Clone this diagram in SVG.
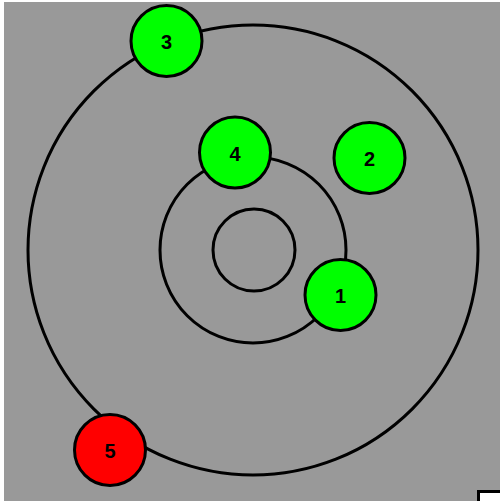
<svg xmlns="http://www.w3.org/2000/svg" width="500" height="501" viewBox="0 0 500 501">
<style>
.orbit{fill:none;stroke:#000;stroke-width:3}
.node circle{stroke:#000;stroke-width:3}
.node text{font-family:"Liberation Sans",Arial,sans-serif;font-size:20px;font-weight:bold;fill:#000;text-anchor:middle;dominant-baseline:central}
</style>
<rect x="0" y="0" width="500" height="501" fill="#fff"/>
<rect x="4" y="2" width="496" height="499" fill="#999999"/>
<rect x="478.5" y="491.5" width="30" height="20" fill="#fff" stroke="#000" stroke-width="3"/>
<g id="connectors">
<circle class="orbit" cx="254" cy="250" r="41"/>
<circle class="orbit" cx="253" cy="250" r="93"/>
<circle class="orbit" cx="253" cy="250" r="225"/>
</g>
<g id="node3" class="node"><circle cx="166.5" cy="41" r="35.5" fill="#00ff00"/><text x="166.5" y="42">3</text></g>
<g id="node4" class="node"><circle cx="235" cy="152.5" r="35.5" fill="#00ff00"/><text x="235" y="153.5">4</text></g>
<g id="node2" class="node"><circle cx="369.5" cy="158" r="35.5" fill="#00ff00"/><text x="369.5" y="159">2</text></g>
<g id="node1" class="node"><circle cx="340.5" cy="295" r="35.5" fill="#00ff00"/><text x="340.5" y="296">1</text></g>
<g id="node5" class="node"><circle cx="110" cy="450" r="35.5" fill="#ff0000"/><text x="110" y="451">5</text></g>
</svg>
